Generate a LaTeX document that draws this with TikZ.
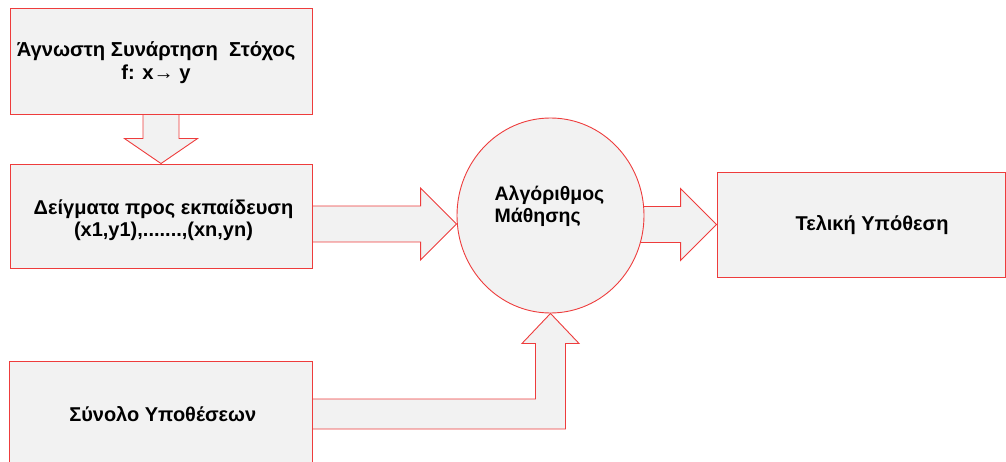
\documentclass[tikz,border=0pt]{standalone}
\usepackage{fontspec}
\setmainfont{Liberation Sans}
\usetikzlibrary{calc,shapes.geometric,backgrounds}
\definecolor{edgered}{RGB}{238,60,60}
\definecolor{boxfill}{RGB}{242,242,242}
\begin{document}
\begin{tikzpicture}[x=1pt,y=-1pt,
  box/.style={draw=edgered,fill=boxfill,line width=0.9pt,rectangle,inner sep=0pt},
  circ/.style={draw=edgered,fill=boxfill,line width=0.9pt,ellipse,inner sep=0pt},
  lbl/.style={font=\fontsize{20}{22}\selectfont\bfseries,align=center,inner sep=0pt},
  toplbl/.style={font=\fontsize{20.2}{23}\selectfont\bfseries,align=center,inner sep=0pt},
  circlbl/.style={font=\fontsize{19.5}{22}\selectfont\bfseries,align=left,inner sep=0pt},
  blk/.style={draw=edgered,fill=boxfill,line width=0.9pt,line join=miter}]
\useasboundingbox (0,0) rectangle (1006,462);
% shapes
\node[box,minimum width=302pt,minimum height=106pt] (t) at (161,61) {};
\node[box,minimum width=302pt,minimum height=104pt] (d) at (161,216) {};
\node[circ,minimum width=187pt,minimum height=195pt] (c) at (550.5,215.5) {};
\node[box,minimum width=288pt,minimum height=105pt] (f) at (861,224.5) {};
\node[box,minimum width=302.5pt,minimum height=106pt] (s) at (160.75,414) {};
% texts
\node[toplbl] (tl) at ($(t.center)+(-5,2)$) {Άγνωστη Συνάρτηση\ \ Στόχος\\f: x→ y};
\node[lbl] (dl) at ($(d.center)+(2.5,4)$) {Δείγματα προς εκπαίδευση\\(x1,y1),.......,(xn,yn)};
\node[circlbl] (cl) at ($(c.center)+(-1,-9.5)$) {Αλγόριθμος\\Μάθησης};
\node[lbl] (fl) at ($(f.center)+(11,0.5)$) {Τελική Υπόθεση};
\node[lbl] (sl) at ($(s.center)+(2,0)$) {Σύνολο Υποθέσεων};
% block arrows
\coordinate (t2) at ($(c.west)+(0,8.5)$);
\begin{scope}[on background layer]
\draw[blk] ($(t.south)+(-18,-5)$) -- ($(d.north)+(-18,-25)$) -- ($(d.north)+(-36.5,-25)$)
  -- (d.north) -- ($(d.north)+(36.5,-25)$) -- ($(d.north)+(18,-25)$) -- ($(t.south)+(18,-5)$) -- cycle;
\draw[blk] ($(d.east |- t2)+(-5,-18)$) -- ($(t2)+(-36,-18)$) -- ($(t2)+(-36,-36)$) -- (t2)
  -- ($(t2)+(-36,36)$) -- ($(t2)+(-36,18)$) -- ($(d.east |- t2)+(-5,18)$) -- cycle;
\draw[blk] ($(c.center |- f.west)+(0,-18)$) -- ($(f.west)+(-36,-18)$) -- ($(f.west)+(-36,-36)$) -- (f.west)
  -- ($(f.west)+(-36,36)$) -- ($(f.west)+(-36,18)$) -- ($(c.center |- f.west)+(0,18)$) -- cycle;
\draw[blk] ($(s.east)+(-5,-15)$) -- ($(c.south |- s.east)+(-15,-15)$) -- ($(c.south)+(-15,30)$)
  -- ($(c.south)+(-28.5,30)$) -- (c.south) -- ($(c.south)+(28.5,30)$) -- ($(c.south)+(15,30)$)
  -- ($(c.south |- s.east)+(15,15)$) -- ($(s.east)+(-5,15)$) -- cycle;
\end{scope}
\end{tikzpicture}
\end{document}
